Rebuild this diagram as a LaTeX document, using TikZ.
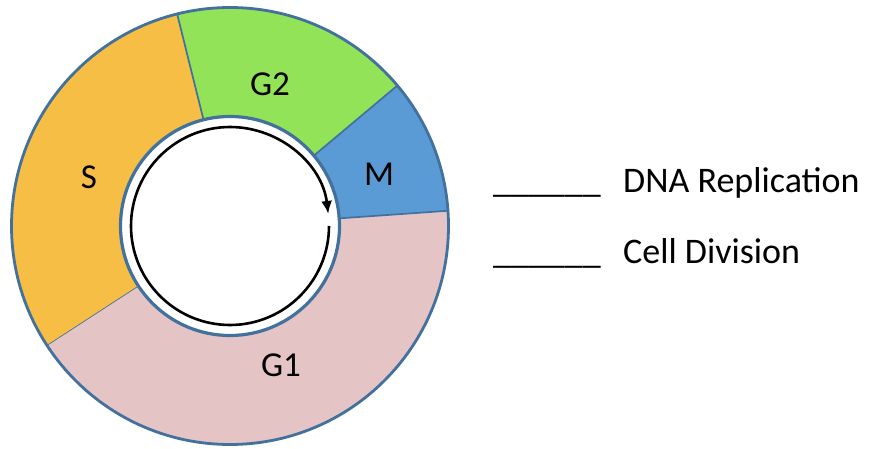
\documentclass[tikz,border=0pt]{standalone}
\usepackage{fontspec}
\setmainfont{Carlito}
\usetikzlibrary{arrows.meta,calc}
\definecolor{cS}{HTML}{F7BE46}
\definecolor{cGtwo}{HTML}{92E358}
\definecolor{cM}{HTML}{5B9BD5}
\definecolor{cGone}{HTML}{E5C4C6}
\definecolor{edge}{HTML}{41719C}
\tikzset{
  sector/.style={draw=edge, line width=1.7pt},
  phase/.style={font=\fontsize{35}{40}\selectfont, anchor=base, inner sep=0pt},
  rtext/.style={font=\fontsize{36}{42}\selectfont, anchor=base west, inner sep=0pt},
}
\newcommand{\annsector}[3]{%
  \fill[#3] (230,222) ++(#1:218.5) arc[start angle=#1, end angle=#2, radius=218.5]
    -- ($(230,222)+(#2:109.5)$) arc[start angle=#2, end angle=#1, radius=109.5] -- cycle;
  \draw[sector] ($(230,222)+(#1:109.5)$) -- ($(230,222)+(#1:218.5)$);
}
\begin{document}
\begin{tikzpicture}[x=1pt,y=1pt]
\useasboundingbox (0,0) rectangle (871,448);
\fill[white] (0,0) rectangle (871,448);
\coordinate (c) at (230,222);
% sectors
\annsector{213}{364}{cGone}
\annsector{4}{40}{cM}
\annsector{40}{104}{cGtwo}
\annsector{104}{213}{cS}
% outer circle
\draw[edge, line width=2.8pt] (c) circle[radius=218.5];
% inner white disc with blue border
\draw[edge, fill=white, line width=3.2pt] (c) circle[radius=109.5];
% cycle arrow
\draw[line width=2.6pt, -{Latex[length=13pt,width=11pt]}] (c) ++(0:99) arc[start angle=0, end angle=-353, radius=99];
% labels
\node[phase] (lS) at (89,259) {S};
\node[phase] (lG2) at (270,352) {G2};
\node[phase] (lM) at (379,262) {M};
\node[phase] (lG1) at (281,72) {G1};
% right text
\node[rtext] (u1) at (493,255) {\_\_\_\_\_\_};
\node[rtext] (t1) at (623,255) {DNA Replication};
\node[rtext] (u2) at (493,185) {\_\_\_\_\_\_};
\node[rtext] (t2) at (623,185) {Cell Division};
\end{tikzpicture}
\end{document}
